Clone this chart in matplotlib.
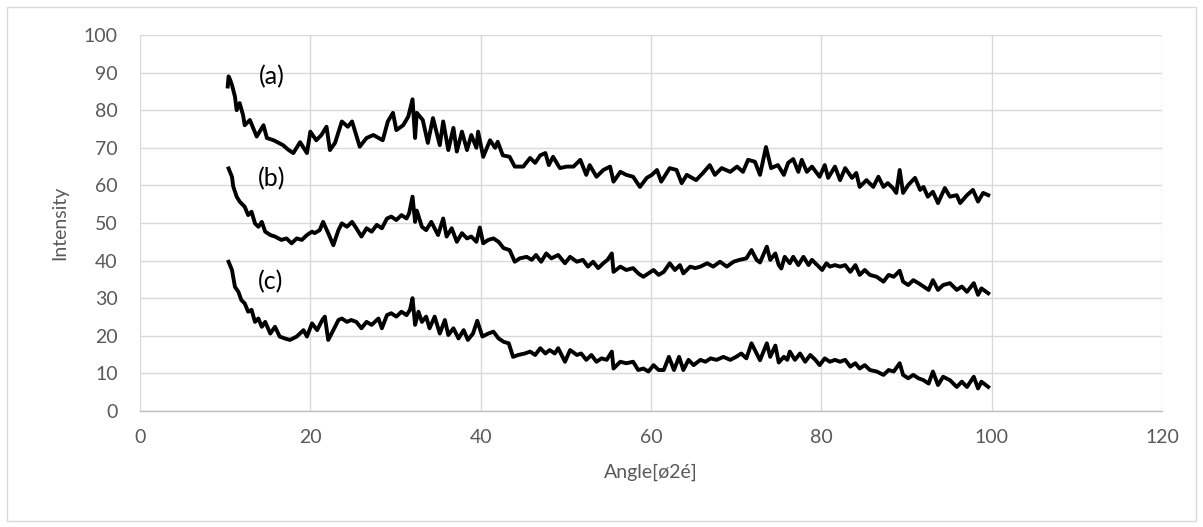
import matplotlib
matplotlib.use("Agg")
import matplotlib.pyplot as plt
from matplotlib.patches import Rectangle

# curve (a)
angle_a = [10.3, 10.4, 10.6, 10.8, 11.15, 11.35, 11.7, 12.1, 12.3, 12.9, 13.7, 14.5, 14.9, 15.7,
           16.8, 17.4, 18.0, 18.8, 19.6, 20.0, 20.7, 21.3, 21.9, 22.3, 22.9, 23.7, 24.4, 24.9,
           25.8, 26.6, 27.4, 28.5, 29.1, 29.7, 30.1, 30.9, 31.5, 32.0, 32.3, 32.5, 33.2, 33.8,
           34.4, 35.2, 35.6, 36.2, 36.8, 37.2, 37.8, 38.4, 38.9, 39.5, 39.7, 40.3, 41.1, 41.7,
           42.0, 42.6, 43.4, 44.0, 45.0, 45.8, 46.4, 47.0, 47.6, 48.0, 48.5, 49.3, 50.1, 50.9,
           51.7, 52.4, 52.8, 53.6, 54.4, 55.2, 55.6, 56.4, 57.1, 57.9, 58.7, 59.5, 60.1, 60.7,
           61.2, 62.2, 63.0, 63.6, 64.2, 65.3, 66.1, 66.9, 67.5, 68.3, 69.3, 70.1, 70.8, 71.4,
           72.2, 72.8, 73.5, 74.1, 74.9, 75.6, 76.1, 76.7, 77.3, 77.7, 78.3, 78.9, 79.8, 80.4,
           80.8, 81.6, 82.2, 82.8, 83.6, 84.1, 84.5, 85.3, 86.1, 86.7, 87.3, 87.8, 88.4, 88.8,
           89.2, 89.6, 90.2, 91.0, 91.6, 92.0, 92.5, 93.1, 93.7, 94.5, 95.1, 95.9, 96.3, 97.1,
           97.8, 98.4, 99.0, 99.6]
intensity_a = [86.3, 89.0, 88.0, 86.7, 83.6, 80.0, 81.9, 78.7, 76.0, 77.4, 73.0, 76.0, 72.6, 72.0,
               70.7, 69.5, 68.6, 71.5, 68.6, 74.3, 72.0, 73.4, 75.6, 69.4, 71.3, 77.0, 75.6, 77.0,
               70.3, 72.6, 73.4, 72.0, 77.0, 79.3, 74.7, 76.0, 78.3, 82.9, 72.6, 79.3, 77.4, 71.3,
               77.9, 70.7, 77.0, 69.4, 75.3, 69.0, 74.3, 69.4, 73.4, 70.0, 74.3, 67.6, 72.0, 70.0,
               71.6, 68.0, 67.6, 65.0, 65.0, 67.3, 66.0, 68.0, 68.6, 65.4, 67.6, 64.6, 65.0, 65.0,
               66.8, 62.8, 65.4, 62.3, 64.1, 65.0, 61.0, 63.6, 62.8, 62.3, 59.6, 62.0, 62.8, 64.1,
               61.0, 64.6, 64.1, 60.6, 62.8, 61.4, 63.3, 65.4, 62.8, 64.6, 63.6, 65.0, 63.6, 66.8,
               66.3, 62.8, 70.2, 64.6, 65.4, 62.8, 66.0, 67.0, 63.6, 66.8, 63.6, 65.0, 62.3, 65.4,
               62.0, 65.0, 61.4, 64.6, 62.0, 63.3, 59.6, 61.4, 59.6, 62.3, 59.6, 60.6, 59.3, 58.0,
               64.1, 58.0, 60.1, 62.0, 58.8, 59.6, 57.0, 58.3, 55.3, 59.3, 57.0, 57.4, 55.3, 57.4,
               58.8, 55.7, 58.0, 57.4]

# curve (b)
angle_b = [10.4, 10.8, 10.95, 11.35, 11.7, 12.3, 12.7, 13.1, 13.5, 13.9, 14.3, 14.7, 15.3, 15.85,
           16.6, 17.2, 17.8, 18.4, 19.0, 19.6, 20.2, 20.5, 21.1, 21.5, 22.1, 22.7, 23.3, 23.7,
           24.3, 24.9, 25.4, 26.0, 26.6, 27.2, 27.8, 28.4, 29.0, 29.5, 30.1, 30.7, 31.3, 31.6,
           32.0, 32.3, 32.5, 33.1, 33.6, 34.2, 35.0, 35.6, 36.0, 36.6, 37.2, 37.8, 38.4, 38.9,
           39.5, 39.9, 40.3, 40.9, 41.5, 42.1, 42.7, 43.4, 44.0, 44.6, 45.4, 46.0, 46.5, 47.1,
           47.7, 48.3, 49.1, 49.9, 50.5, 51.3, 52.0, 52.6, 53.2, 53.8, 54.4, 54.9, 55.4, 55.6,
           56.4, 57.1, 57.9, 58.5, 59.1, 59.7, 60.3, 60.9, 61.5, 62.2, 62.8, 63.4, 63.8, 64.6,
           65.2, 65.8, 66.6, 67.3, 68.1, 68.9, 69.7, 70.4, 71.2, 71.8, 72.4, 72.8, 73.6, 74.0,
           74.6, 75.0, 75.3, 75.7, 76.3, 76.7, 77.3, 77.9, 78.5, 78.9, 79.7, 80.1, 80.6, 81.0,
           81.6, 82.2, 82.8, 83.4, 84.0, 84.5, 85.1, 85.7, 86.5, 87.3, 87.9, 88.5, 89.2, 89.6,
           90.2, 90.8, 91.4, 92.0, 92.6, 93.1, 93.7, 94.3, 95.1, 95.9, 96.5, 97.1, 97.9, 98.4,
           98.8, 99.6]
intensity_b = [64.5, 62.3, 59.7, 57.0, 55.7, 54.3, 52.1, 53.0, 49.9, 49.0, 50.3, 47.7, 46.8, 46.4,
               45.5, 45.9, 44.6, 45.9, 45.5, 46.8, 47.7, 47.3, 48.1, 50.3, 47.3, 44.1, 48.1, 49.9,
               49.0, 50.3, 48.6, 46.4, 48.6, 47.7, 49.5, 48.6, 51.2, 51.7, 50.8, 52.1, 51.2, 52.6,
               57.0, 50.3, 53.3, 49.0, 48.1, 50.3, 46.8, 51.2, 46.4, 48.6, 45.0, 47.3, 45.9, 46.4,
               45.0, 48.8, 44.6, 45.5, 45.9, 45.0, 43.3, 42.8, 39.7, 40.6, 41.0, 40.2, 41.5, 39.7,
               41.9, 40.6, 41.5, 39.3, 41.0, 39.7, 40.2, 38.4, 39.7, 38.0, 39.3, 40.2, 41.9, 37.0,
               38.4, 37.5, 38.0, 36.6, 35.7, 36.6, 37.5, 36.2, 37.0, 39.3, 37.5, 38.8, 36.6, 38.4,
               38.0, 38.4, 39.3, 38.4, 39.7, 38.4, 39.7, 40.2, 40.6, 42.8, 40.2, 39.5, 43.7, 40.2,
               41.9, 38.8, 37.9, 41.0, 39.3, 41.0, 38.8, 41.0, 38.8, 40.2, 38.4, 37.5, 39.3, 38.4,
               38.8, 38.4, 38.8, 37.0, 38.8, 36.2, 37.5, 36.2, 35.7, 34.4, 36.2, 35.7, 37.3, 34.4,
               33.5, 34.8, 34.0, 33.1, 32.2, 34.8, 32.2, 33.5, 34.0, 32.2, 33.1, 31.7, 34.0, 30.9,
               32.6, 31.3]

# curve (c)
angle_c = [10.4, 10.8, 11.15, 11.55, 11.9, 12.3, 12.7, 13.1, 13.5, 13.9, 14.3, 14.7, 15.3, 15.85,
           16.4, 17.0, 17.6, 18.4, 19.2, 19.6, 20.2, 20.8, 21.4, 21.7, 22.1, 22.7, 23.3, 23.7,
           24.3, 24.8, 25.4, 26.0, 26.6, 27.2, 28.0, 28.4, 29.0, 29.5, 30.1, 30.7, 31.3, 31.7,
           32.0, 32.3, 32.7, 33.1, 33.6, 34.0, 34.6, 35.2, 35.8, 36.2, 36.8, 37.4, 38.0, 38.5,
           39.1, 39.6, 40.2, 40.9, 41.5, 42.1, 42.7, 43.3, 43.8, 44.4, 45.2, 45.8, 46.4, 47.0,
           47.6, 48.1, 48.7, 49.1, 49.9, 50.5, 51.3, 51.8, 52.4, 53.0, 53.6, 54.2, 54.8, 55.4,
           55.6, 56.4, 57.1, 57.9, 58.5, 59.1, 59.7, 60.3, 60.9, 61.5, 62.1, 62.7, 63.3, 63.8,
           64.4, 65.0, 65.8, 66.4, 67.0, 67.7, 68.5, 69.3, 70.0, 70.6, 71.2, 71.8, 72.4, 72.8,
           73.6, 74.0, 74.6, 75.0, 75.6, 76.0, 76.3, 76.9, 77.5, 78.1, 78.7, 79.3, 79.8, 80.4,
           81.0, 81.6, 82.2, 82.8, 83.4, 84.0, 84.5, 85.1, 85.7, 86.5, 87.3, 87.9, 88.5, 89.2,
           89.6, 90.2, 90.8, 91.4, 92.0, 92.6, 93.1, 93.7, 94.3, 95.1, 95.9, 96.5, 97.1, 97.9,
           98.4, 98.8, 99.6]
intensity_c = [39.7, 37.5, 33.0, 31.7, 29.5, 28.6, 26.4, 26.9, 23.7, 24.6, 22.4, 23.7, 20.6, 22.4,
               19.8, 19.3, 18.9, 19.8, 21.5, 19.8, 23.3, 21.5, 24.2, 25.1, 18.9, 21.5, 24.2, 24.6,
               23.7, 24.2, 23.7, 22.0, 23.7, 22.9, 24.6, 22.0, 25.5, 26.0, 25.1, 26.4, 25.5, 26.9,
               30.0, 22.9, 26.4, 23.7, 25.1, 22.0, 25.1, 20.6, 24.2, 20.2, 22.0, 19.3, 21.5, 18.9,
               20.6, 24.0, 19.8, 20.6, 21.1, 19.3, 18.4, 18.0, 14.4, 14.9, 15.3, 15.8, 14.9, 16.7,
               15.3, 16.2, 15.3, 16.7, 13.1, 16.2, 14.9, 15.3, 13.6, 14.9, 13.1, 14.0, 13.6, 15.8,
               11.3, 13.1, 12.7, 13.1, 10.9, 11.3, 10.5, 12.2, 10.9, 10.9, 14.4, 10.9, 14.4, 10.9,
               13.6, 12.2, 13.6, 13.1, 14.0, 13.6, 14.4, 13.6, 14.4, 15.3, 14.0, 18.0, 15.3, 13.5,
               18.0, 14.4, 17.4, 12.9, 14.4, 13.6, 15.8, 13.6, 15.3, 13.1, 14.9, 13.6, 12.2, 14.0,
               13.1, 13.6, 13.1, 13.6, 11.8, 12.7, 11.3, 12.2, 10.9, 10.5, 9.6, 10.9, 10.5, 12.7,
               9.6, 8.7, 9.6, 8.7, 8.2, 7.3, 10.5, 6.9, 9.1, 8.2, 6.4, 7.8, 6.4, 9.1,
               6.0, 7.8, 6.4]

curve_labels = ["(a)", "(b)", "(c)"]
label_pos = [(15.5, 88.9), (15.5, 61.9), (15.3, 34.4)]

x_ticks = [0, 20, 40, 60, 80, 100, 120]
y_ticks = [0, 10, 20, 30, 40, 50, 60, 70, 80, 90, 100]

plt.rcParams["font.family"] = ["Lato", "DejaVu Sans"]

W, H = 1203, 527
fig = plt.figure(figsize=(W / 100, H / 100), dpi=100)
fig.patches.append(Rectangle((7 / W, 6 / H), 1189 / W, 514 / H, transform=fig.transFigure,
                             fill=False, edgecolor="#d9d9d9", linewidth=1.0))

ax = fig.add_axes([140 / W, (H - 411) / H, 1022 / W, 376 / H])

for xs, ys in [(angle_a, intensity_a), (angle_b, intensity_b), (angle_c, intensity_c)]:
    ax.plot(xs, ys, color="black", linewidth=2.8, solid_joinstyle="round", zorder=3)

for txt, (lx, ly) in zip(curve_labels, label_pos):
    ax.text(lx, ly, txt, fontsize=18, ha="center", va="center", color="black", zorder=4)

ax.set_xlim(0, 120)
ax.set_ylim(0, 100)
ax.set_xticks(x_ticks)
ax.set_yticks(y_ticks)
ax.grid(True, color="#d9d9d9", linewidth=1.0, zorder=0)
ax.set_axisbelow(True)
for side in ["top", "right", "left"]:
    ax.spines[side].set_visible(False)
ax.spines["bottom"].set_color("#bfbfbf")
ax.spines["bottom"].set_linewidth(1.0)
ax.tick_params(length=0, labelsize=14, labelcolor="#595959")
ax.tick_params(axis="y", pad=16)
ax.tick_params(axis="x", pad=13)

ax.set_xlabel("Angle[ø2é]", fontsize=14, color="#595959", labelpad=13)
ax.set_ylabel("Intensity", fontsize=14, color="#595959", labelpad=11)

fig.savefig("out.png", dpi=100)
